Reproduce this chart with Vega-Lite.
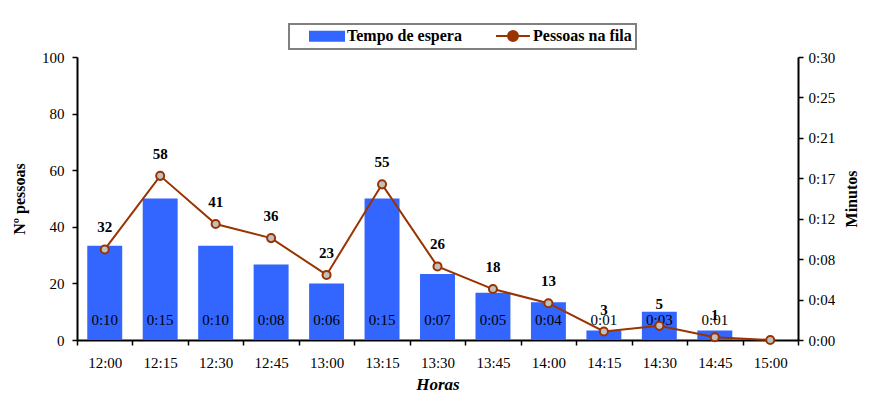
{
  "$schema": "https://vega.github.io/schema/vega-lite/v6.json",
  "width": 721,
  "height": 283,
  "padding": {"left": 11, "top": 23, "right": 5, "bottom": 5},
  "background": "white",
  "data": {"values": [
    {"hora": "12:00", "pessoas": 32, "min": 10, "espera": "0:10"},
    {"hora": "12:15", "pessoas": 58, "min": 15, "espera": "0:15"},
    {"hora": "12:30", "pessoas": 41, "min": 10, "espera": "0:10"},
    {"hora": "12:45", "pessoas": 36, "min": 8, "espera": "0:08"},
    {"hora": "13:00", "pessoas": 23, "min": 6, "espera": "0:06"},
    {"hora": "13:15", "pessoas": 55, "min": 15, "espera": "0:15"},
    {"hora": "13:30", "pessoas": 26, "min": 7, "espera": "0:07"},
    {"hora": "13:45", "pessoas": 18, "min": 5, "espera": "0:05"},
    {"hora": "14:00", "pessoas": 13, "min": 4, "espera": "0:04"},
    {"hora": "14:15", "pessoas": 3, "min": 1, "espera": "0:01"},
    {"hora": "14:30", "pessoas": 5, "min": 3, "espera": "0:03"},
    {"hora": "14:45", "pessoas": 1, "min": 1, "espera": "0:01"},
    {"hora": "15:00", "pessoas": 0, "min": 0, "espera": ""}
  ]},
  "encoding": {
    "x": {
      "field": "hora", "type": "ordinal",
      "scale": {"paddingInner": 0, "paddingOuter": 0},
      "axis": {
        "title": "Horas", "labelAngle": 0, "tickBand": "extent",
        "labelPadding": 10, "titleFontStyle": "italic", "titleFontSize": 17, "titlePadding": 6
      }
    }
  },
  "layer": [
    {
      "layer": [
        {
          "mark": {"type": "bar", "width": {"band": 0.63}},
          "encoding": {
            "y": {
              "field": "min", "type": "quantitative",
              "scale": {"domain": [0, 30], "nice": false},
              "axis": {
                "orient": "right", "title": "Minutos", "titleAngle": 270, "titleBaseline": "top",
                "values": [0, 4.2857, 8.5714, 12.8571, 17.1429, 21.4286, 25.7143, 30],
                "labelExpr": "'0:' + (floor(datum.value) < 10 ? '0' : '') + floor(datum.value)",
                "labelPadding": 5, "titlePadding": 9
              }
            },
            "color": {
              "datum": "Tempo de espera",
              "scale": {"domain": ["Tempo de espera", "Pessoas na fila"], "range": ["#3366FF", "#993300"]},
              "legend": {
                "title": null,
                "orient": "none",
                "legendX": 212,
                "legendY": -33,
                "direction": "horizontal",
                "symbolSize": 100,
                "symbolOffset": 26,
                "labelOffset": 12,
                "columnPadding": 17,
                "padding": 4,
                "symbolFillColor": "#C0C0C0",
                "encode": {
                  "symbols": {
                    "update": {
                      "shape": {"signal": "datum.value === 'Tempo de espera' ? 'M-3.4,-0.9H3.4V0.9H-3.4Z' : 'M-3.4,0H-1M1,0H3.4M-1,0A1,1 0 1 1 1,0A1,1 0 1 1 -1,0Z'"},
                      "fill": {"signal": "datum.value === 'Tempo de espera' ? '#3366FF' : '#C0C0C0'"},
                      "stroke": {"signal": "datum.value === 'Tempo de espera' ? 'transparent' : '#993300'"},
                      "strokeWidth": {"value": 2},
                      "opacity": {"value": 1},
                      "fillOpacity": {"value": 1},
                      "size": {"value": 100}
                    }
                  }
                }
              }
            }
          }
        },
        {
          "transform": [{"filter": "datum.min > 0"}],
          "mark": {"type": "text", "baseline": "middle", "dy": -20, "font": "Liberation Serif", "fontSize": 15, "color": "black"},
          "encoding": {
            "y": {"datum": 0, "type": "quantitative"},
            "text": {"field": "espera"}
          }
        }
      ]
    },
    {
      "layer": [
        {
          "mark": {"type": "line", "strokeWidth": 2},
          "encoding": {
            "y": {
              "field": "pessoas", "type": "quantitative",
              "scale": {"domain": [0, 100], "nice": false},
              "axis": {"orient": "left", "title": "Nº pessoas", "values": [0, 20, 40, 60, 80, 100], "labelPadding": 8, "titlePadding": 14}
            },
            "color": {"datum": "Pessoas na fila"}
          }
        },
        {
          "mark": {"type": "point", "filled": true, "fill": "#C0C0C0", "stroke": "#993300", "strokeWidth": 2, "size": 65, "opacity": 1},
          "encoding": {
            "y": {"field": "pessoas", "type": "quantitative"}
          }
        },
        {
          "transform": [{"filter": "datum.pessoas > 0"}],
          "mark": {"type": "text", "baseline": "middle", "dy": -22, "font": "Liberation Serif", "fontSize": 15, "fontWeight": "bold", "color": "black"},
          "encoding": {
            "y": {"field": "pessoas", "type": "quantitative"},
            "text": {"field": "pessoas", "type": "quantitative"}
          }
        }
      ]
    }
  ],
  "resolve": {"scale": {"y": "independent"}},
  "config": {
    "view": {"stroke": null},
    "font": "Liberation Serif",
    "axis": {
      "grid": false,
      "domainColor": "black", "domainWidth": 2,
      "tickColor": "black", "tickWidth": 1.5, "tickSize": 5,
      "labelFont": "Liberation Serif", "labelFontSize": 15, "labelColor": "black",
      "titleFont": "Liberation Serif", "titleFontSize": 16, "titleFontWeight": "bold", "titleColor": "black"
    },
    "legend": {
      "labelFont": "Liberation Serif", "labelFontSize": 16, "labelFontWeight": "bold", "labelColor": "black",
      "strokeColor": "#808080", "strokeWidth": 2
    }
  }
}
